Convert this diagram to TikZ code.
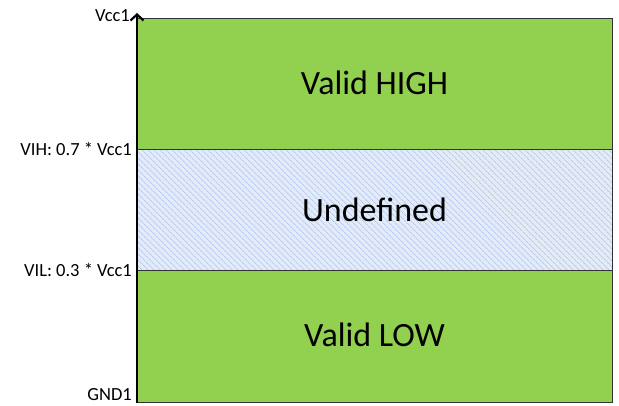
\documentclass[tikz,border=0pt]{standalone}
\usepackage{fontspec}
\setmainfont{Carlito}
\usetikzlibrary{positioning, arrows.meta, patterns.meta}
\definecolor{validgreen}{RGB}{146,208,80}
\definecolor{hatchblue}{RGB}{160,182,228}
\definecolor{undefbg}{RGB}{228,235,248}
\begin{document}
\begin{tikzpicture}[x=1pt, y=1pt]
\tikzstyle{band}=[draw=black!80, line width=0.8pt]
\tikzstyle{valid}=[band, fill=validgreen]
\tikzstyle{undef}=[band, pattern={Lines[angle=-45, distance=4pt, line width=0.6pt]}, pattern color=hatchblue]
\tikzstyle{level}=[anchor=east, font=\fontsize{18.5}{22}\selectfont, inner sep=0pt]
\tikzstyle{zone}=[font=\fontsize{34}{40}\selectfont]
\useasboundingbox (0,0) rectangle (619,405);
% bands
\fill[undefbg] (137,135) rectangle (612,256);
\draw[undef] (137,135) rectangle (612,256);
\draw[valid] (137,256) rectangle (612,387);
\draw[valid] (137,3) rectangle (612,135);
\node[zone] (high) at (374.5,322) {Valid HIGH};
\node[zone] (undefined) at (374.5,195) {Undefined};
\node[zone] (low) at (374.5,70) {Valid LOW};
% axis
\coordinate (gnd) at (137,2);
\coordinate (vcc) at (137,392);
\draw[line width=2.8pt, -{Straight Barb[length=6pt, width=13pt, line width=2.2pt]}] (gnd) -- (vcc);
% levels
\node[level] (lvcc) at (130,389) {Vcc1};
\node[level] (lvih) at (132,256) {VIH: 0.7 * Vcc1};
\node[level] (lvil) at (132,135) {VIL: 0.3 * Vcc1};
\node[level] (lgnd) at (132,10) {GND1};
\end{tikzpicture}
\end{document}
